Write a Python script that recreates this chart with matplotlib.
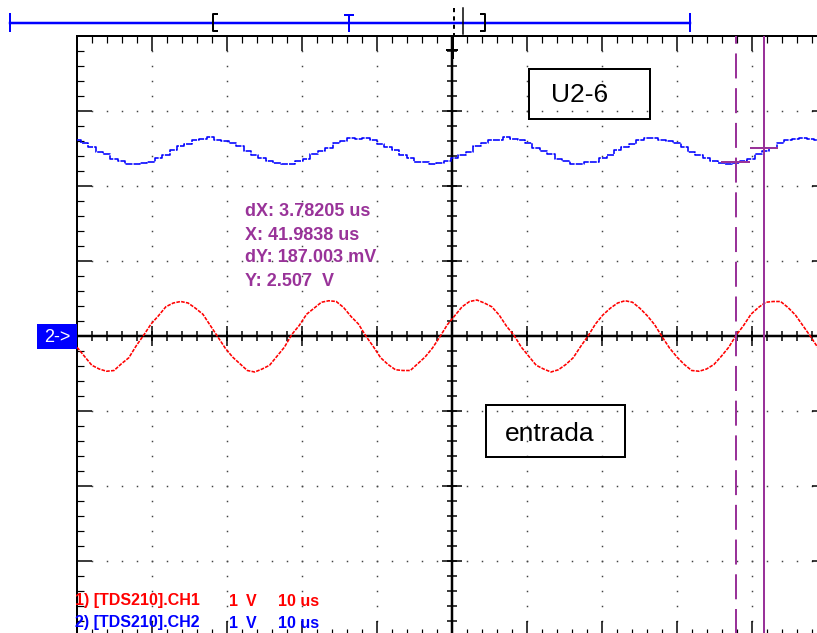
import matplotlib
matplotlib.use("Agg")
import matplotlib.pyplot as plt  # noqa: E402
from matplotlib.patches import Rectangle  # noqa: E402
import numpy as np  # noqa: E402

plt.rcParams["font.family"] = ["Liberation Sans", "DejaVu Sans"]
plt.rcParams["lines.scale_dashes"] = False

W, H = 817, 633
PX = 0.72  # points per pixel at dpi 100
RED, BLUE, PURPLE, DOT = "#FF0000", "#0000FF", "#993399", "#444444"

# scope: 10 us/div, 1 V/div, 10 x 8 divisions, one sample every ~1 us
SAMPLE_US = 0.9875

# CH1 "entrada" (V)
ch1_v = [
    -0.15, -0.27, -0.39, -0.44, -0.47, -0.46, -0.37, -0.29, -0.13, 0.01,
    0.16, 0.27, 0.39, 0.44, 0.46, 0.44, 0.37, 0.29, 0.14, -0.01,
    -0.16, -0.28, -0.37, -0.46, -0.48, -0.44, -0.39, -0.27, -0.15, 0.02,
    0.14, 0.29, 0.37, 0.45, 0.47, 0.46, 0.38, 0.26, 0.16, 0.00,
    -0.14, -0.29, -0.38, -0.45, -0.46, -0.46, -0.37, -0.28, -0.16, -0.01,
    0.15, 0.27, 0.39, 0.46, 0.48, 0.44, 0.39, 0.28, 0.13, 0.01,
    -0.15, -0.27, -0.39, -0.44, -0.48, -0.45, -0.38, -0.29, -0.14, 0.00,
    0.16, 0.28, 0.37, 0.44, 0.47, 0.45, 0.37, 0.27, 0.15, -0.01,
    -0.16, -0.28, -0.38, -0.46, -0.47, -0.44, -0.38, -0.27, -0.15, 0.01,
    0.14, 0.29, 0.38, 0.45, 0.46, 0.46, 0.38, 0.28, 0.14, 0.00,
    -0.15, -0.28,
]

# CH2 "U2-6" (V)
ch2_v = [
    2.61, 2.58, 2.52, 2.46, 2.43, 2.36, 2.34, 2.30, 2.29, 2.31,
    2.32, 2.38, 2.41, 2.48, 2.53, 2.56, 2.62, 2.63, 2.65, 2.62,
    2.60, 2.57, 2.53, 2.47, 2.41, 2.38, 2.33, 2.31, 2.30, 2.30,
    2.34, 2.36, 2.43, 2.47, 2.51, 2.58, 2.60, 2.64, 2.63, 2.64,
    2.61, 2.56, 2.52, 2.48, 2.42, 2.37, 2.32, 2.32, 2.29, 2.31,
    2.33, 2.37, 2.41, 2.46, 2.53, 2.57, 2.61, 2.62, 2.65, 2.63,
    2.62, 2.57, 2.51, 2.47, 2.43, 2.36, 2.33, 2.30, 2.30, 2.32,
    2.32, 2.38, 2.42, 2.48, 2.52, 2.56, 2.62, 2.64, 2.64, 2.62,
    2.60, 2.58, 2.52, 2.46, 2.42, 2.38, 2.34, 2.31, 2.29, 2.31,
    2.33, 2.36, 2.43, 2.47, 2.51, 2.57, 2.61, 2.63, 2.64, 2.63,
    2.61, 2.57,
]

cursor_t = [87.8, 91.58]     # us
cursor_v = [2.320, 2.507]    # V
readout = ["dX: 3.78205 us", "X: 41.9838 us", "dY: 187.003 mV", "Y: 2.507  V"]
ch_names = ["1) [TDS210].CH1", "2) [TDS210].CH2"]
ch_scale = ["1", "V", "10 us"]

fig = plt.figure(figsize=(W / 100, H / 100), dpi=100)
fig.patch.set_facecolor("white")

# graticule occupies 750 x 600 px, starting at (77, 36); it runs past the right/bottom edge
ax = fig.add_axes([77 / W, -3 / H, 750 / W, 600 / H])
ax.set_xlim(0, 100)
ax.set_ylim(-4, 4)
ax.set_xticks(np.arange(0, 101, 10))
ax.set_xticks(np.arange(0, 101, 2), minor=True)
ax.set_yticks(np.arange(-4, 4.01, 1))
ax.set_yticks(np.arange(-4, 4.01, 0.2), minor=True)
ax.tick_params(which="both", direction="in", top=True, right=True,
               labelbottom=False, labelleft=False, color="black")
ax.tick_params(which="major", length=15 * PX, width=1.5 * PX)
ax.tick_params(which="minor", length=7 * PX, width=1.2 * PX)
for sp in ax.spines.values():
    sp.set_linewidth(2 * PX)

# dotted grid
gx, gy = [], []
for xv in [10, 20, 30, 40, 60, 70, 80, 90]:
    for yv in np.arange(-3.8, 3.81, 0.2):
        gx.append(xv)
        gy.append(yv)
for yv in [-3, -2, -1, 1, 2, 3]:
    for xv in np.arange(2, 99, 2):
        gx.append(xv)
        gy.append(yv)
ax.plot(gx, gy, "s", ms=1.5 * PX, mew=0, color=DOT, zorder=1)

# centre axes with ticks
ax.axhline(0, color="black", lw=2.5 * PX, zorder=2)
ax.axvline(50, color="black", lw=2.5 * PX, zorder=2)
mx = np.arange(2, 100, 2)
ax.plot(mx, np.zeros_like(mx), "|", ms=10 * PX, mew=1.5 * PX, color="black", zorder=2)
ax.plot(np.arange(10, 100, 10), np.zeros(9), "|", ms=20 * PX, mew=1.5 * PX, color="black", zorder=2)
my = np.arange(-3.8, 3.81, 0.2)
ax.plot(np.full_like(my, 50), my, "_", ms=10 * PX, mew=1.5 * PX, color="black", zorder=2)
ax.plot(np.full(7, 50), np.arange(-3, 4, 1), "_", ms=20 * PX, mew=1.5 * PX, color="black", zorder=2)

# traces (the scope draws them as broken dot runs)
t = np.arange(len(ch1_v)) * SAMPLE_US
ax.plot(t, ch1_v, color=RED, lw=1.6 * PX, dashes=(2.6, 0.9), zorder=3)
t2 = np.arange(len(ch2_v)) * SAMPLE_US
ax.plot(t2, ch2_v, color=BLUE, lw=1.6 * PX, drawstyle="steps-mid", dashes=(5, 0.8), zorder=3)

# cursors
ax.axvline(cursor_t[0], color=PURPLE, lw=2 * PX, dashes=(18, 7), zorder=4)
ax.axvline(cursor_t[1], color=PURPLE, lw=2 * PX, zorder=4)
for tc, vc in zip(cursor_t, cursor_v):
    ax.hlines(vc, tc - 1.9, tc + 1.9, color=PURPLE, lw=2 * PX, zorder=4)

# overlay in pixel units for the record ruler and labels
ov = fig.add_axes([0, 0, 1, 1], zorder=5)
ov.set_xlim(0, W)
ov.set_ylim(H, 0)
ov.axis("off")
ov.patch.set_visible(False)

lw2 = 2 * PX
ov.plot([10, 690], [23, 23], color=BLUE, lw=2.5 * PX)
ov.plot([10, 10], [14, 31], color=BLUE, lw=lw2)
ov.plot([690, 690], [14, 31], color=BLUE, lw=lw2)
ov.plot([217, 213, 213, 217], [14, 14, 31, 31], color="black", lw=lw2)
ov.plot([481, 485, 485, 481], [14, 14, 31, 31], color="black", lw=lw2)
ov.plot([345, 353], [15, 15], color=BLUE, lw=lw2)
ov.plot([349, 349], [15, 31], color=BLUE, lw=lw2)
ov.plot([454, 454], [8, 36], color="black", lw=lw2, dashes=(3, 3))
ov.plot([463, 463], [8, 34], color="black", lw=1.5 * PX)
ov.plot([452, 452], [36, 57], color="black", lw=3 * PX)
ov.plot([447, 457], [50, 50], color="black", lw=lw2)

# channel marker
ov.add_patch(Rectangle((37, 324), 40, 25, facecolor=BLUE, edgecolor="none"))
ov.text(57, 337, "2->", color="white", fontsize=13, ha="center", va="center")

# labelled boxes
ov.add_patch(Rectangle((529, 69), 121, 50, facecolor="none", edgecolor="black", lw=2 * PX))
ov.text(580, 95, "U2-6", fontsize=19, ha="center", va="center")
ov.add_patch(Rectangle((486, 405), 139, 52, facecolor="none", edgecolor="black", lw=2 * PX))
ov.text(550, 434, "entrada", fontsize=19, ha="center", va="center")

# cursor readout
for i, s in enumerate(readout):
    ov.text(245, 212 + i * 23, s, color=PURPLE, fontsize=13, fontweight="bold", va="center")

# channel settings
for i, (name, col) in enumerate(zip(ch_names, [RED, BLUE])):
    yy = 601 + i * 22
    ov.text(75, yy, name, color=col, fontsize=11.5, fontweight="bold", va="center")
    for xx, s in zip([229, 246, 278], ch_scale):
        ov.text(xx, yy, s, color=col, fontsize=11.5, fontweight="bold", va="center")

fig.savefig("out.png", dpi=100, facecolor="white")
